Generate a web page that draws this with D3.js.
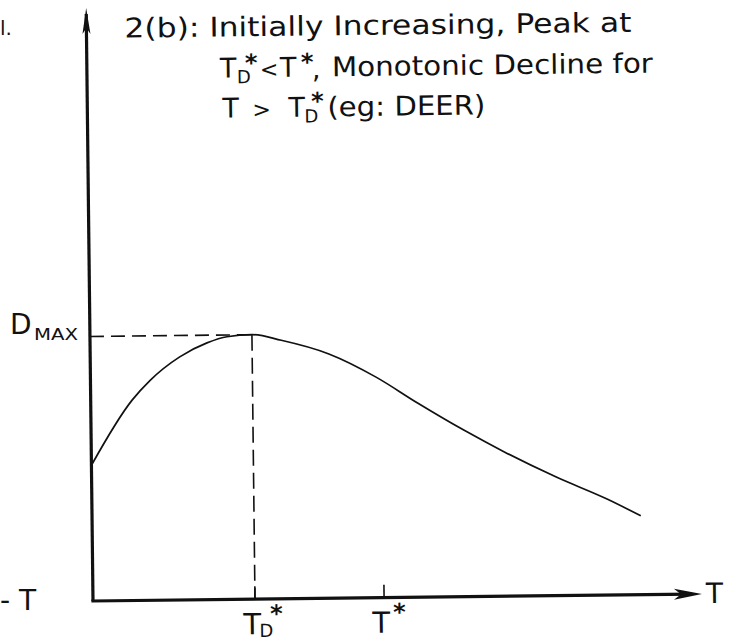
<!DOCTYPE html>
<html>
<head>
<meta charset="utf-8">
<script src="https://cdn.jsdelivr.net/npm/d3@7"></script>
<style>
  html, body { margin: 0; padding: 0; background: #fff; }
  svg { display: block; }
</style>
</head>
<body>
<svg id="chart" width="729" height="641"></svg>
<script>
// Damage D(T): rises from the axis, peaks at T_D*, then declines
const curveT = [0, 0.68, 0.98, 1.47, 1.92, 2.25, 2.66, 3.14, 3.92, 4.69, 5.36, 6.12, 6.79, 7.63, 8.46, 9.01];
const curveD = [2.29, 3.38, 3.71, 4.10, 4.33, 4.43, 4.46, 4.36, 4.12, 3.72, 3.28, 2.81, 2.43, 2.00, 1.62, 1.33];

// Peak location and height
const peakT = 2.66;
const dMax = 4.46;

// Marked points on the T axis
const tickT = [2.66, 4.78];
const tickMain = ["T", "T"];
const tickSub = ["D", ""];
const tickSup = ["*", "*"];

// Axis and annotation texts
const axisNameX = "T";
const axisNameYMain = "D";
const axisNameYSub = "MAX";
const titleLine1 = "2(b): Initially Increasing, Peak at";
const titleLine2 = ["T", "D", "*", "<", "T", "*", ",", "Monotonic Decline for"];
const titleLine3 = ["T", ">", "T", "D", "*", "(eg: DEER)"];
const edgeLeftBottom = "- T";
const edgeLeftTop = "l.";

const FONT = "'DejaVu Sans', sans-serif";
const INK = "#111";
const svg = d3.select("#chart");

// Scales: T from 0 to 10, D from 0 to 10
const x = d3.scaleLinear().domain([0, 10]).range([93, 702]);
const y = d3.scaleLinear().domain([0, 10]).range([601, 8]);

// The drawing sits at a small counter-clockwise tilt about the origin
const g = svg.append("g")
  .attr("transform", `rotate(-0.66, ${x(0)}, ${y(0)})`);

function label(parent, str, px, py, size, len) {
  const t = parent.append("text")
    .attr("x", px).attr("y", py)
    .attr("font-family", FONT)
    .attr("font-size", size)
    .attr("fill", INK)
    .text(str);
  if (len) t.attr("textLength", len).attr("lengthAdjust", "spacingAndGlyphs");
  return t;
}

// A text made of several runs, each with its own x, baseline, size, weight
function rich(parent, runs) {
  const t = parent.append("text")
    .attr("font-family", FONT)
    .attr("fill", INK);
  runs.forEach(r => {
    t.append("tspan")
      .attr("x", r.x).attr("y", r.y)
      .attr("font-size", r.size)
      .attr("font-weight", r.bold ? "bold" : "normal")
      .text(r.s);
  });
  return t;
}

// Dashed guides to the peak
g.append("line")
  .attr("x1", x(0)).attr("y1", y(dMax))
  .attr("x2", x(peakT)).attr("y2", y(dMax))
  .attr("stroke", INK).attr("stroke-width", 1.6)
  .attr("stroke-dasharray", "14,7");
g.append("line")
  .attr("x1", x(peakT)).attr("y1", y(dMax))
  .attr("x2", x(peakT)).attr("y2", y(0))
  .attr("stroke", INK).attr("stroke-width", 1.6)
  .attr("stroke-dasharray", "16,7");

// Curve
const pts = curveT.map((t, i) => [t, curveD[i]]);
g.append("path")
  .datum(pts)
  .attr("fill", "none")
  .attr("stroke", INK)
  .attr("stroke-width", 1.7)
  .attr("d", d3.line().x(d => x(d[0])).y(d => y(d[1])).curve(d3.curveMonotoneX));

// Axes
g.append("line")
  .attr("x1", x(0)).attr("y1", y(0))
  .attr("x2", x(0)).attr("y2", y(10) + 6)
  .attr("stroke", INK).attr("stroke-width", 3.2);
g.append("line")
  .attr("x1", x(0) - 1.6).attr("y1", y(0))
  .attr("x2", x(10) - 10).attr("y2", y(0))
  .attr("stroke", INK).attr("stroke-width", 3.2);

// Arrowheads
const yTip = y(10), xTip = x(10), ax = x(0), ay = y(0);
g.append("path")
  .attr("d", `M${ax},${yTip} L${ax - 4},${yTip + 26} L${ax},${yTip + 20} L${ax + 4},${yTip + 26} Z`)
  .attr("fill", INK);
g.append("path")
  .attr("d", `M${xTip},${ay} L${xTip - 28},${ay - 5.5} L${xTip - 21},${ay} L${xTip - 28},${ay + 5.5} Z`)
  .attr("fill", INK);

// Ticks on the T axis
g.selectAll("line.tick")
  .data(tickT)
  .join("line")
  .attr("class", "tick")
  .attr("x1", d => x(d)).attr("x2", d => x(d))
  .attr("y1", y(0)).attr("y2", y(0) - 13)
  .attr("stroke", INK).attr("stroke-width", 1.6);

// Tick labels
tickT.forEach((t, i) => {
  const px = x(t) - 12;
  const runs = [{ s: tickMain[i], x: px, y: 636, size: 29 }];
  if (tickSub[i]) runs.push({ s: tickSub[i], x: px + 16, y: 639, size: 18 });
  runs.push({ s: tickSup[i], x: px + (tickSub[i] ? 27 : 21), y: 624, size: 24, bold: true });
  rich(g, runs);
});

// Axis name at the end of the T axis
label(g, axisNameX, 706, 610, 28);

// Heading
label(g, titleLine1, 131, 38, 27, 507);

const l2 = titleLine2;
rich(g, [
  { s: l2[0], x: 226, y: 79, size: 27 },
  { s: l2[1], x: 243, y: 85, size: 18 },
  { s: l2[2], x: 251, y: 73, size: 24, bold: true },
  { s: l2[3], x: 266, y: 79, size: 22 },
  { s: l2[4], x: 286, y: 79, size: 27 },
  { s: l2[5], x: 307, y: 73, size: 24, bold: true },
  { s: l2[6], x: 318, y: 81, size: 27 }
]);
label(g, l2[7], 338, 79, 27, 321);

const l3 = titleLine3;
rich(g, [
  { s: l3[0], x: 228, y: 119, size: 27 },
  { s: l3[1], x: 258, y: 119, size: 22 },
  { s: l3[2], x: 294, y: 119, size: 27 },
  { s: l3[3], x: 310, y: 125, size: 18 },
  { s: l3[4], x: 317, y: 112, size: 24, bold: true }
]);
label(g, l3[5], 333, 119, 27, 158);

// D_MAX beside the vertical axis
rich(svg, [
  { s: axisNameYMain, x: 10, y: 334, size: 28 },
  { s: axisNameYSub, x: 34, y: 340, size: 16 }
]).select("tspan:last-child").attr("textLength", 44).attr("lengthAdjust", "spacingAndGlyphs");

// Fragments of neighbouring panels at the left edge
label(svg, edgeLeftBottom, 0, 610, 28);
label(svg, edgeLeftTop, 0, 35, 20);
</script>
</body>
</html>
